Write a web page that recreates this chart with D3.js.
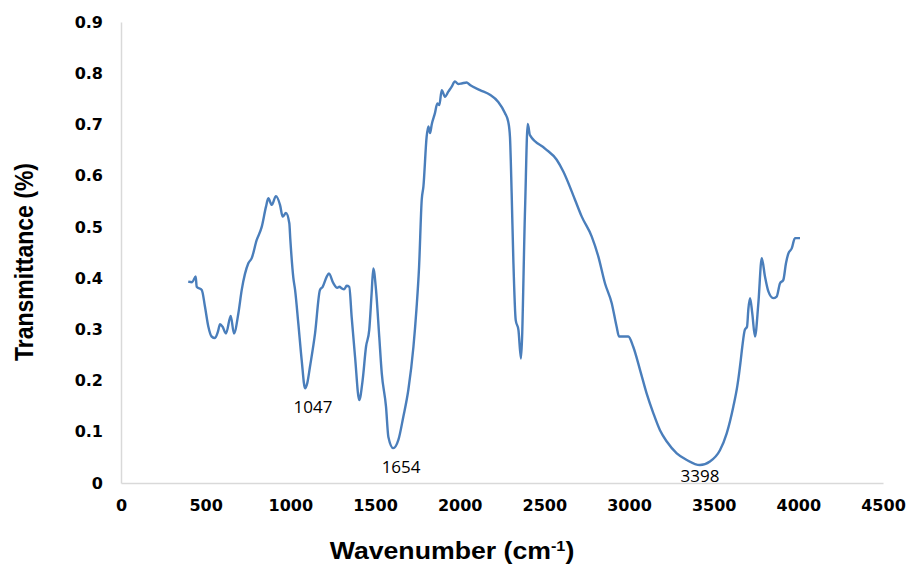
<!DOCTYPE html>
<html>
<head>
<meta charset="utf-8">
<script src="https://cdn.jsdelivr.net/npm/d3@7"></script>
<style>
  body { margin: 0; background: #fff; }
  .tick text { font-family: "DejaVu Sans", sans-serif; font-weight: bold; font-size: 16px; fill: #000; }
  .domain { stroke: #d9d9d9; stroke-width: 1.5px; }
  .peak { font-family: "Open Sans", "Noto Sans", sans-serif; font-size: 17px; fill: #000; }
  .title { font-family: "Liberation Sans", Arial, sans-serif; font-weight: bold; font-size: 23px; fill: #000; }
</style>
</head>
<body>
<script>
// FTIR spectrum
const wavenumber = [397, 420, 441, 447, 477, 496, 516, 535, 555, 572, 585, 600, 620, 648, 667, 693, 713, 752, 772, 801,
  831, 856, 870, 890, 915, 939, 955, 974, 994, 1000, 1018, 1028, 1047, 1067, 1087, 1100, 1116, 1146, 1175, 1191,
  1215, 1228, 1254, 1277, 1290, 1303, 1318, 1333, 1348, 1362, 1382, 1407, 1427, 1447, 1466, 1480, 1490, 1506, 1525, 1540,
  1565, 1579, 1608, 1638, 1667, 1697, 1727, 1745, 1760, 1776, 1786, 1805, 1815, 1825, 1835, 1854, 1868, 1880, 1894, 1913,
  1933, 1953, 1972, 1992, 2012, 2041, 2061, 2120, 2179, 2228, 2268, 2287, 2297, 2307, 2317, 2331, 2347, 2362, 2386, 2402,
  2415, 2504, 2573, 2612, 2681, 2721, 2780, 2819, 2858, 2898, 2927, 2941, 2996, 3025, 3065, 3104, 3144, 3183, 3223, 3282,
  3341, 3419, 3478, 3537, 3577, 3616, 3640, 3660, 3669, 3684, 3697, 3705, 3715, 3728, 3744, 3764, 3784, 3803, 3823, 3852,
  3872, 3892, 3911, 3927, 3941, 3961, 3980, 4010];
const transmittance = [0.393, 0.392, 0.403, 0.383, 0.377, 0.344, 0.305, 0.286, 0.283, 0.295, 0.310, 0.305, 0.292, 0.326, 0.292, 0.331, 0.377, 0.429, 0.439, 0.474,
  0.500, 0.539, 0.556, 0.543, 0.560, 0.543, 0.520, 0.527, 0.507, 0.475, 0.400, 0.377, 0.312, 0.240, 0.185, 0.195, 0.227, 0.292, 0.377, 0.383,
  0.403, 0.409, 0.390, 0.381, 0.383, 0.380, 0.378, 0.385, 0.383, 0.325, 0.247, 0.162, 0.201, 0.266, 0.299, 0.370, 0.419, 0.377, 0.286, 0.214,
  0.149, 0.090, 0.068, 0.084, 0.129, 0.182, 0.266, 0.340, 0.420, 0.553, 0.579, 0.676, 0.696, 0.683, 0.700, 0.722, 0.741, 0.738, 0.767, 0.754,
  0.764, 0.774, 0.784, 0.779, 0.780, 0.782, 0.777, 0.767, 0.758, 0.744, 0.722, 0.705, 0.676, 0.566, 0.435, 0.318, 0.299, 0.243, 0.533, 0.701,
  0.679, 0.653, 0.631, 0.608, 0.553, 0.520, 0.481, 0.442, 0.390, 0.351, 0.305, 0.286, 0.286, 0.266, 0.221, 0.175, 0.136, 0.103, 0.081, 0.058,
  0.045, 0.035, 0.042, 0.064, 0.097, 0.149, 0.190, 0.240, 0.266, 0.299, 0.305, 0.340, 0.361, 0.331, 0.286, 0.351, 0.439, 0.403, 0.374, 0.361,
  0.364, 0.390, 0.396, 0.429, 0.448, 0.458, 0.478, 0.478];

const xTicks = [0, 500, 1000, 1500, 2000, 2500, 3000, 3500, 4000, 4500];
const yTicks = [0, 0.1, 0.2, 0.3, 0.4, 0.5, 0.6, 0.7, 0.8, 0.9];

// peak labels: text, wavenumber position, transmittance position (baseline)
const peakText = ["1047", "1654", "3398"];
const peakX = [1134, 1654, 3419];
const peakY = [0.137, 0.020, 0.001];

const w = 907, h = 564;
const margin = {top: 22, right: 24, bottom: 81, left: 121};
const width = w - margin.left - margin.right,
    height = h - margin.top - margin.bottom;

const svg = d3.select("body").append("svg")
    .attr("width", w)
    .attr("height", h);

const g = svg.append("g")
    .attr("transform", "translate(" + margin.left + "," + margin.top + ")");

const xScale = d3.scaleLinear().domain([0, 4500]).range([0, width]);
const yScale = d3.scaleLinear().domain([0, 0.9]).range([height, 0]);

g.append("g")
    .call(d3.axisLeft(yScale).tickValues(yTicks).tickSize(0).tickPadding(18)
        .tickFormat(d => d === 0 ? "0" : d3.format(".1f")(d)));

g.append("g")
    .attr("transform", "translate(0," + height + ")")
    .call(d3.axisBottom(xScale).tickValues(xTicks).tickSize(0).tickPadding(17)
        .tickFormat(d3.format("d")));

const data = wavenumber.map((d, i) => ({x: d, y: transmittance[i]}));

const line = d3.line()
    .x(d => xScale(d.x))
    .y(d => yScale(d.y))
    .curve(d3.curveMonotoneX);

g.append("path")
    .datum(data)
    .attr("fill", "none")
    .attr("stroke", "#4a7ebb")
    .attr("stroke-width", 2.4)
    .attr("stroke-linejoin", "round")
    .attr("d", line);

g.selectAll(".peak")
    .data(peakText)
    .enter().append("text")
    .attr("class", "peak")
    .attr("text-anchor", "middle")
    .attr("x", (d, i) => xScale(peakX[i]))
    .attr("y", (d, i) => yScale(peakY[i]))
    .text(d => d);

// axis titles (the original image is a bit stretched sideways)
svg.append("text")
    .attr("class", "title")
    .attr("text-anchor", "middle")
    .attr("transform", "translate(33,262) rotate(-90) scale(1,1.16)")
    .text("Transmittance (%)");

const xt = svg.append("text")
    .attr("class", "title")
    .attr("text-anchor", "middle")
    .attr("transform", "translate(452,559) scale(1.16,1)");
xt.append("tspan").text("Wavenumber (cm");
xt.append("tspan").attr("font-size", "14px").attr("dy", "-8").text("-1");
xt.append("tspan").attr("dy", "8").text(")");
</script>
</body>
</html>
